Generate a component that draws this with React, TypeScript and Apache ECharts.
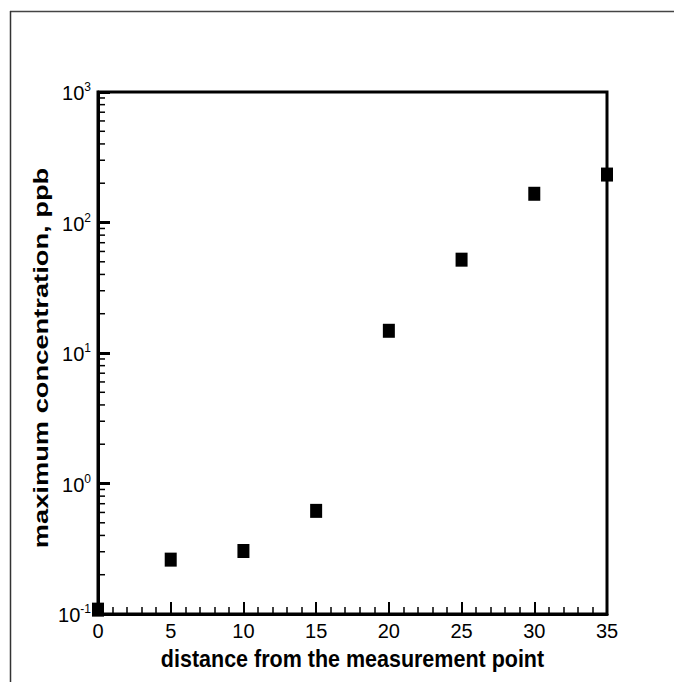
import React, { useEffect, useRef } from "react";
import * as echarts from "echarts";

const distances = [0, 5, 10, 15, 20, 25, 30, 35];
const concentrations = [0.108, 0.261, 0.304, 0.617, 14.8, 51.9, 166, 233];
const xTickLabels = ["0", "5", "10", "15", "20", "25", "30", "35"];
const decades = [-1, 0, 1, 2];
const minorMultipliers = [2, 3, 4, 5, 6, 7, 8, 9];

const X_MIN = 0;
const X_MAX = 35;
const Y_MIN = 0.1;
const Y_MAX = 1000;

const FONT = "'Liberation Sans', Arial, Helvetica, sans-serif";

export default function App() {
  const ref = useRef<HTMLDivElement>(null);

  useEffect(() => {
    if (!ref.current) return;
    document.body.style.margin = "0";
    document.body.style.overflow = "hidden";
    const chart = echarts.init(ref.current, undefined, { renderer: "svg" });

    const minorValues: number[][] = [];
    decades.forEach((d) => {
      minorMultipliers.forEach((m) => {
        minorValues.push([X_MIN, m * Math.pow(10, d)]);
      });
    });

    const gridLeft = 98;
    const gridTop = 92;
    const gridRight = 67;
    const gridBottom = 68;
    const W = 674;
    const H = 682;
    const plotCx = gridLeft + (W - gridLeft - gridRight) / 2;
    const plotCy = gridTop + (H - gridTop - gridBottom) / 2;

    chart.setOption({
      animation: false,
      backgroundColor: "#fff",
      grid: {
        left: gridLeft,
        right: gridRight,
        top: gridTop,
        bottom: gridBottom,
        show: true,
        borderColor: "#000",
        borderWidth: 3,
        backgroundColor: "transparent",
      },
      xAxis: {
        type: "value",
        min: X_MIN,
        max: X_MAX,
        interval: 5,
        axisLine: { show: true, onZero: false, lineStyle: { color: "#000", width: 3 } },
        axisTick: { show: true, inside: true, length: 12, lineStyle: { color: "#000", width: 2 } },
        minorTick: { show: true, splitNumber: 5, length: 7, lineStyle: { color: "#000", width: 1.5 } },
        splitLine: { show: false },
        axisLabel: {
          margin: 7,
          fontSize: 20,
          fontFamily: FONT,
          color: "#000",
          formatter: (v: number) => {
            const i = Math.round(v / 5);
            return xTickLabels[i] ?? String(v);
          },
        },
      },
      yAxis: {
        type: "log",
        logBase: 10,
        min: Y_MIN,
        max: Y_MAX,
        splitNumber: 4,
        axisLine: { show: true, onZero: false, lineStyle: { color: "#000", width: 3 } },
        axisTick: { show: true, inside: true, length: 12, lineStyle: { color: "#000", width: 3 } },
        splitLine: { show: false },
        axisLabel: {
          margin: 7,
          formatter: (v: number) => {
            const e = Math.round(Math.log10(v));
            return "{b|10}{s|" + e + "}";
          },
          rich: {
            b: { fontSize: 20, fontFamily: FONT, color: "#000", verticalAlign: "bottom", lineHeight: 22 },
            s: { fontSize: 12, fontFamily: FONT, color: "#000", verticalAlign: "top", lineHeight: 22 },
          },
        },
      },
      graphic: [
        {
          type: "line",
          shape: { x1: 10, y1: 11.5, x2: W, y2: 11.5 },
          style: { stroke: "#444", lineWidth: 1.5 },
          silent: true,
        },
        {
          type: "line",
          shape: { x1: 10.5, y1: 11, x2: 10.5, y2: H },
          style: { stroke: "#333", lineWidth: 1.5 },
          silent: true,
        },
        {
          type: "text",
          x: plotCx,
          y: 659,
          scaleY: 1.12,
          style: {
            text: "distance from the measurement point",
            fontSize: 21.5,
            fontWeight: "bold",
            fontFamily: FONT,
            fill: "#000",
            textAlign: "center",
            textVerticalAlign: "middle",
            align: "center",
            verticalAlign: "middle",
          },
        },
        {
          type: "text",
          x: 41,
          y: plotCy + 5,
          rotation: Math.PI / 2,
          scaleX: 1.3,
          style: {
            text: "maximum concentration, ppb",
            fontSize: 21,
            fontWeight: "bold",
            fontFamily: FONT,
            fill: "#000",
            textAlign: "center",
            textVerticalAlign: "middle",
            align: "center",
            verticalAlign: "middle",
          },
        },
      ],
      series: [
        {
          type: "custom",
          silent: true,
          clip: false,
          z: 3,
          renderItem: (_params: any, api: any) => {
            const p = api.coord([api.value(0), api.value(1)]);
            return {
              type: "line",
              shape: { x1: p[0], y1: p[1], x2: p[0] + 7, y2: p[1] },
              style: { stroke: "#000", lineWidth: 1.5 },
            };
          },
          data: minorValues,
        },
        {
          type: "scatter",
          symbol: "rect",
          symbolSize: [12, 14],
          clip: false,
          z: 5,
          itemStyle: { color: "#000", opacity: 1 },
          data: distances.map((d, i) => [d, concentrations[i]]),
        },
      ],
    });

    return () => chart.dispose();
  }, []);

  return <div ref={ref} style={{ width: 674, height: 682, overflow: "hidden" }} />;
}
